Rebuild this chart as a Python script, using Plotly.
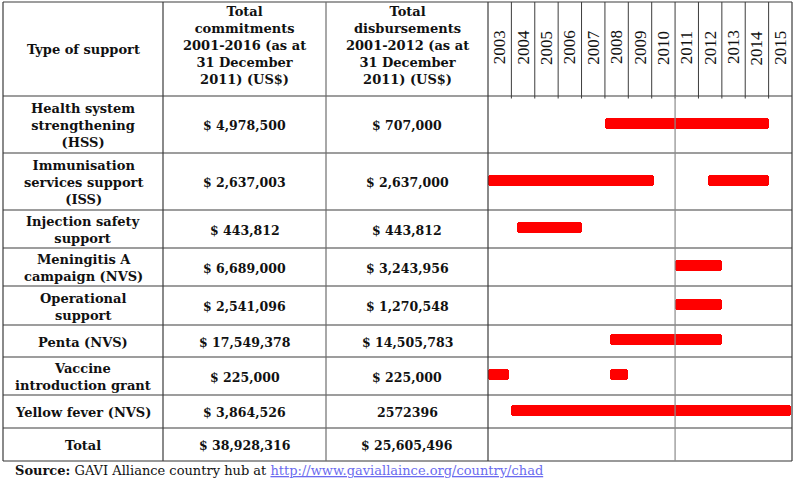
import plotly.graph_objects as go

W, H = 795, 486

# ---------------- data ----------------
support_types = [
    "Health system<br>strengthening<br>(HSS)",
    "Immunisation<br>services support<br>(ISS)",
    "Injection safety<br>support",
    "Meningitis A<br>campaign (NVS)",
    "Operational<br>support",
    "Penta (NVS)",
    "Vaccine<br>introduction grant",
    "Yellow fever (NVS)",
    "Total",
]
commitments = [
    "$ 4,978,500", "$ 2,637,003", "$ 443,812", "$ 6,689,000", "$ 2,541,096",
    "$ 17,549,378", "$ 225,000", "$ 3,864,526", "$ 38,928,316",
]
disbursements = [
    "$ 707,000", "$ 2,637,000", "$ 443,812", "$ 3,243,956", "$ 1,270,548",
    "$ 14,505,783", "$ 225,000", "2572396", "$ 25,605,496",
]
header_labels = [
    "Type of support",
    "Total<br>commitments<br>2001-2016 (as at<br>31 December<br>2011) (US$)",
    "Total<br>disbursements<br>2001-2012 (as at<br>31 December<br>2011) (US$)",
]
years = list(range(2003, 2016))

# Gantt segments (row index into support_types, start year, end year)
seg_row = [0, 1, 1, 2, 3, 4, 5, 6, 6, 7]
seg_start = [2008.0, 2003.0, 2012.4, 2004.25, 2011.0, 2011.0, 2008.2, 2003.0, 2008.2, 2004.0]
seg_end = [2015.0, 2010.1, 2015.0, 2007.0, 2013.0, 2013.0, 2013.0, 2003.9, 2009.0, 2015.95]

# ---------------- layout geometry (pixels) ----------------
col_x = [3, 163, 326, 488, 792]
row_y = [2, 96, 153, 210, 248, 286, 325, 357, 395, 428, 461]
row_c = [(row_y[i + 1] + row_y[i + 2]) / 2 for i in range(len(support_types))]
col_c = [(col_x[i] + col_x[i + 1]) / 2 for i in range(3)]
yr0, yr1 = 2003, 2016
yr_w = (col_x[4] - col_x[3]) / (yr1 - yr0)

def px(x):
    return x / W

FONT = "DejaVu Serif"
dark = "#3c3c3c"
mid = "#8a8a8a"

fig = go.Figure()

fig.add_trace(go.Bar(
    orientation="h",
    y=[row_c[r] - 1.5 for r in seg_row],
    x=[e - s for s, e in zip(seg_start, seg_end)],
    base=seg_start,
    width=11,
    marker=dict(color="#ff0000", line=dict(width=0), cornerradius=3),
    hoverinfo="skip",
    showlegend=False,
))

shapes = []
def vline(x, y0, y1, color=dark, width=1.2):
    shapes.append(dict(type="line", xref="paper", yref="y", x0=px(x), x1=px(x),
                       y0=y0, y1=y1, line=dict(color=color, width=width), layer="above"))

def hline(y, x0, x1, color=dark, width=1.2):
    shapes.append(dict(type="line", xref="paper", yref="y", x0=px(x0), x1=px(x1),
                       y0=y, y1=y, line=dict(color=color, width=width), layer="above"))

for y in row_y:
    last = y == row_y[-1]
    hline(y, col_x[0], col_x[4], color="#777777" if last else dark, width=1.6 if last else 1.2)
vline(col_x[0], row_y[0], row_y[-1])
vline(col_x[1], row_y[0], row_y[-1])
vline(col_x[2], row_y[0], row_y[-1], color="#6e6e6e")
vline(col_x[3], row_y[0], row_y[-1])
vline(col_x[4], row_y[0], row_y[-1])
for i in range(1, len(years)):
    x = col_x[3] + i * yr_w
    vline(x, row_y[0], row_y[1] + 2.5, color=dark, width=1)
vline(col_x[3] + (2011 - yr0) * yr_w, row_y[1], row_y[-1], color=mid, width=1.2)

annotations = []
def txt(x, y, text, size=13, family=FONT, color="#111111", angle=0, xanchor="center"):
    annotations.append(dict(x=px(x), y=y, xref="paper", yref="y", text=text,
                            showarrow=False, xanchor=xanchor, yanchor="middle",
                            textangle=angle, align="center",
                            font=dict(family=family, size=size, color=color)))

txt(col_c[0], 49, "<b>" + header_labels[0] + "</b>")
txt(col_c[1], 45, "<b>" + header_labels[1] + "</b>")
txt(col_c[2], 45, "<b>" + header_labels[2] + "</b>")
for i, yv in enumerate(years):
    txt(col_x[3] + (i + 0.5) * yr_w, 47.5, str(yv), size=17,
        family="Liberation Serif", angle=-90)

for i, lab in enumerate(support_types):
    txt(col_c[0], row_c[i] + 1, "<b>" + lab + "</b>")
    txt(col_c[1], row_c[i] + 1, "<b>" + commitments[i] + "</b>", size=12.5)
    txt(col_c[2], row_c[i] + 1, "<b>" + disbursements[i] + "</b>", size=12.5)

txt(13, 470, "<b>Source:</b> GAVI Alliance country hub at "
    "<span style='color:#6b6bef'><u>http://www.gaviallaince.org/country/chad</u></span>",
    size=13, xanchor="left")

fig.update_layout(
    width=W, height=H,
    margin=dict(l=0, r=0, t=0, b=0),
    paper_bgcolor="white", plot_bgcolor="white",
    xaxis=dict(range=[yr0, yr1], domain=[px(col_x[3]), px(col_x[4])],
               visible=False, fixedrange=True),
    yaxis=dict(range=[H, 0], domain=[0, 1], visible=False, fixedrange=True),
    shapes=shapes, annotations=annotations,
    bargap=0,
)

fig.write_html("out.html",
               config={"displayModeBar": False},
               post_script="document.body.style.margin='0px';document.body.style.overflow='hidden';")
